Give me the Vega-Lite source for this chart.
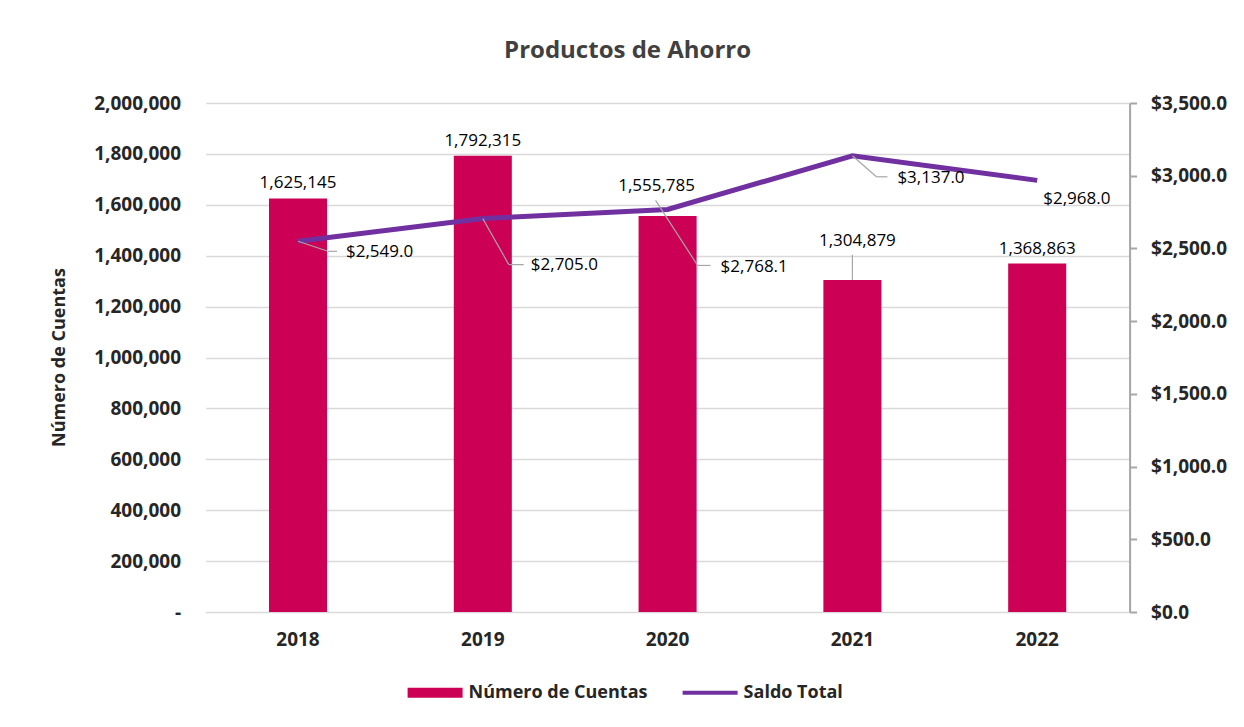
{
  "$schema": "https://vega.github.io/schema/vega-lite/v6.json",
  "autosize": "none",
  "width": 924,
  "height": 509,
  "padding": {"left": 205.6, "top": 103, "right": 114.4, "bottom": 115},
  "background": "white",
  "config": {
    "view": {"stroke": null},
    "font": "Open Sans"
  },
  "title": {
    "text": "Productos de Ahorro",
    "font": "Open Sans",
    "fontSize": 24,
    "fontWeight": "bold",
    "color": "#404040",
    "anchor": "middle",
    "frame": "group",
    "dx": -40,
    "offset": 31
  },
  "data": {
    "values": [
      {"year": "2018", "cuentas": 1625145, "saldo": 2549.0},
      {"year": "2019", "cuentas": 1792315, "saldo": 2705.0},
      {"year": "2020", "cuentas": 1555785, "saldo": 2768.1},
      {"year": "2021", "cuentas": 1304879, "saldo": 3137.0},
      {"year": "2022", "cuentas": 1368863, "saldo": 2968.0}
    ]
  },
  "encoding": {
    "x": {
      "field": "year",
      "type": "ordinal",
      "scale": {"paddingInner": 0.686, "paddingOuter": 0.343},
      "axis": {
        "title": null,
        "labelAngle": 0,
        "domain": false,
        "ticks": false,
        "tickSize": 0,
        "labelPadding": 18,
        "labelFont": "Open Sans",
        "labelFontSize": 19,
        "labelFontWeight": "bold",
        "labelColor": "#262626"
      }
    }
  },
  "layer": [
    {
      "encoding": {
        "y": {
          "field": "cuentas",
          "type": "quantitative",
          "scale": {"domain": [0, 2000000], "nice": false},
          "axis": {
            "orient": "left",
            "title": "Número de Cuentas",
            "titleFont": "Open Sans",
            "titleFontSize": 18,
            "titleFontWeight": "bold",
            "titleColor": "#262626",
            "titleAngle": -90,
            "titleX": -146,
            "titleY": 254,
            "titleAlign": "center",
            "titleBaseline": "middle",
            "values": [0, 200000, 400000, 600000, 800000, 1000000, 1200000, 1400000, 1600000, 1800000, 2000000],
            "labelExpr": "datum.value === 0 ? '-' : format(datum.value, ',')",
            "labelFont": "Open Sans",
            "labelFontSize": 19,
            "labelFontWeight": "bold",
            "labelColor": "#262626",
            "labelPadding": 25,
            "domain": false,
            "ticks": false,
            "tickSize": 0,
            "grid": true,
            "gridColor": "#D9D9D9",
            "gridWidth": 1.5
          }
        }
      },
      "layer": [
        {
          "mark": {"type": "bar"},
          "encoding": {
            "color": {
              "datum": "Número de Cuentas",
              "scale": {"domain": ["Número de Cuentas", "Saldo Total"], "range": ["#CC0055", "#7030A0"]},
              "legend": {
                "orient": "none",
                "legendX": 202,
                "legendY": 562,
                "direction": "horizontal",
                "title": null,
                "labelFont": "Open Sans",
                "labelFontSize": 18,
                "labelFontWeight": "bold",
                "labelColor": "#262626",
                "labelLimit": 0,
                "symbolSize": 3025,
                "symbolStrokeWidth": 0,
                "labelOffset": 6,
                "columnPadding": 35,
                "encode": {
                  "symbols": {
                    "update": {
                      "shape": {"signal": "datum.value === 'Saldo Total' ? 'M-1,-0.07H1V0.07H-1Z' : 'M-1,-0.18H1V0.18H-1Z'"},
                      "fill": {"signal": "datum.value === 'Saldo Total' ? '#7030A0' : '#CC0055'"},
                      "stroke": {"value": "transparent"},
                      "opacity": {"value": 1}
                    }
                  }
                }
              }
            }
          }
        },
        {
          "transform": [{"filter": "datum.year !== '2020' && datum.year !== '2021'"}],
          "mark": {"type": "text", "baseline": "bottom", "dy": -6, "font": "Open Sans", "fontSize": 17, "color": "#000000"},
          "encoding": {"text": {"field": "cuentas", "type": "quantitative", "format": ","}}
        },
        {
          "transform": [{"filter": "datum.year === '2020'"}],
          "mark": {"type": "text", "baseline": "bottom", "dy": -21, "dx": -11, "font": "Open Sans", "fontSize": 17, "color": "#000000"},
          "encoding": {"text": {"field": "cuentas", "type": "quantitative", "format": ","}}
        },
        {
          "transform": [{"filter": "datum.year === '2021'"}],
          "mark": {"type": "text", "baseline": "bottom", "dy": -30, "dx": 5, "font": "Open Sans", "fontSize": 17, "color": "#000000"},
          "encoding": {"text": {"field": "cuentas", "type": "quantitative", "format": ","}}
        },
        {
          "transform": [{"filter": "datum.year === '2021'"}],
          "mark": {"type": "rule", "color": "#A6A6A6", "strokeWidth": 1.2, "y2Offset": -25},
          "encoding": {"y2": {"field": "cuentas"}}
        }
      ]
    },
    {
      "encoding": {
        "y": {
          "field": "saldo",
          "type": "quantitative",
          "scale": {"domain": [0, 3500], "nice": false},
          "axis": {
            "orient": "right",
            "title": null,
            "values": [0, 500, 1000, 1500, 2000, 2500, 3000, 3500],
            "labelExpr": "'$' + format(datum.value, ',.1f')",
            "labelFont": "Open Sans",
            "labelFontSize": 19,
            "labelFontWeight": "bold",
            "labelColor": "#262626",
            "labelPadding": 14,
            "domain": true,
            "domainColor": "#A6A6A6",
            "domainWidth": 2,
            "ticks": true,
            "tickSize": 7,
            "tickColor": "#A6A6A6",
            "tickWidth": 2,
            "grid": false
          }
        }
      },
      "layer": [
        {
          "mark": {"type": "line", "strokeWidth": 5, "strokeCap": "butt"},
          "encoding": {"color": {"datum": "Saldo Total"}}
        },
        {
          "transform": [{"filter": "datum.year === '2018'"}],
          "mark": {"type": "rule", "color": "#A6A6A6", "strokeWidth": 1.2, "x2Offset": 30, "y2Offset": 10},
          "encoding": {"x2": {"field": "year"}, "y2": {"field": "saldo"}}
        },
        {
          "transform": [{"filter": "datum.year === '2018'"}],
          "mark": {"type": "rule", "color": "#A6A6A6", "strokeWidth": 1.2, "xOffset": 30, "yOffset": 10, "x2Offset": 39, "y2Offset": 10},
          "encoding": {"x2": {"field": "year"}, "y2": {"field": "saldo"}}
        },
        {
          "transform": [{"filter": "datum.year === '2019'"}],
          "mark": {"type": "rule", "color": "#A6A6A6", "strokeWidth": 1.2, "x2Offset": 26, "y2Offset": 46},
          "encoding": {"x2": {"field": "year"}, "y2": {"field": "saldo"}}
        },
        {
          "transform": [{"filter": "datum.year === '2019'"}],
          "mark": {"type": "rule", "color": "#A6A6A6", "strokeWidth": 1.2, "xOffset": 26, "yOffset": 46, "x2Offset": 41, "y2Offset": 46},
          "encoding": {"x2": {"field": "year"}, "y2": {"field": "saldo"}}
        },
        {
          "transform": [{"filter": "datum.year === '2020'"}],
          "mark": {"type": "rule", "color": "#A6A6A6", "strokeWidth": 1.2, "xOffset": -12, "yOffset": -9, "x2Offset": 30, "y2Offset": 56},
          "encoding": {"x2": {"field": "year"}, "y2": {"field": "saldo"}}
        },
        {
          "transform": [{"filter": "datum.year === '2020'"}],
          "mark": {"type": "rule", "color": "#A6A6A6", "strokeWidth": 1.2, "xOffset": 30, "yOffset": 56, "x2Offset": 43, "y2Offset": 56},
          "encoding": {"x2": {"field": "year"}, "y2": {"field": "saldo"}}
        },
        {
          "transform": [{"filter": "datum.year === '2021'"}],
          "mark": {"type": "rule", "color": "#A6A6A6", "strokeWidth": 1.2, "x2Offset": 24, "y2Offset": 21},
          "encoding": {"x2": {"field": "year"}, "y2": {"field": "saldo"}}
        },
        {
          "transform": [{"filter": "datum.year === '2021'"}],
          "mark": {"type": "rule", "color": "#A6A6A6", "strokeWidth": 1.2, "xOffset": 24, "yOffset": 21, "x2Offset": 35, "y2Offset": 21},
          "encoding": {"x2": {"field": "year"}, "y2": {"field": "saldo"}}
        },
        {
          "transform": [{"filter": "datum.year === '2018'"}],
          "mark": {"type": "text", "align": "left", "baseline": "middle", "dx": 48, "dy": 11, "font": "Open Sans", "fontSize": 17, "color": "#000000"},
          "encoding": {"text": {"field": "saldo", "type": "quantitative", "format": "$,.1f"}}
        },
        {
          "transform": [{"filter": "datum.year === '2019'"}],
          "mark": {"type": "text", "align": "left", "baseline": "middle", "dx": 48, "dy": 46, "font": "Open Sans", "fontSize": 17, "color": "#000000"},
          "encoding": {"text": {"field": "saldo", "type": "quantitative", "format": "$,.1f"}}
        },
        {
          "transform": [{"filter": "datum.year === '2020'"}],
          "mark": {"type": "text", "align": "left", "baseline": "middle", "dx": 53, "dy": 58, "font": "Open Sans", "fontSize": 17, "color": "#000000"},
          "encoding": {"text": {"field": "saldo", "type": "quantitative", "format": "$,.1f"}}
        },
        {
          "transform": [{"filter": "datum.year === '2021'"}],
          "mark": {"type": "text", "align": "left", "baseline": "middle", "dx": 45, "dy": 22, "font": "Open Sans", "fontSize": 17, "color": "#000000"},
          "encoding": {"text": {"field": "saldo", "type": "quantitative", "format": "$,.1f"}}
        },
        {
          "transform": [{"filter": "datum.year === '2022'"}],
          "mark": {"type": "text", "align": "left", "baseline": "middle", "dx": 6, "dy": 19, "font": "Open Sans", "fontSize": 17, "color": "#000000"},
          "encoding": {"text": {"field": "saldo", "type": "quantitative", "format": "$,.1f"}}
        }
      ]
    }
  ],
  "resolve": {"scale": {"y": "independent"}}
}
